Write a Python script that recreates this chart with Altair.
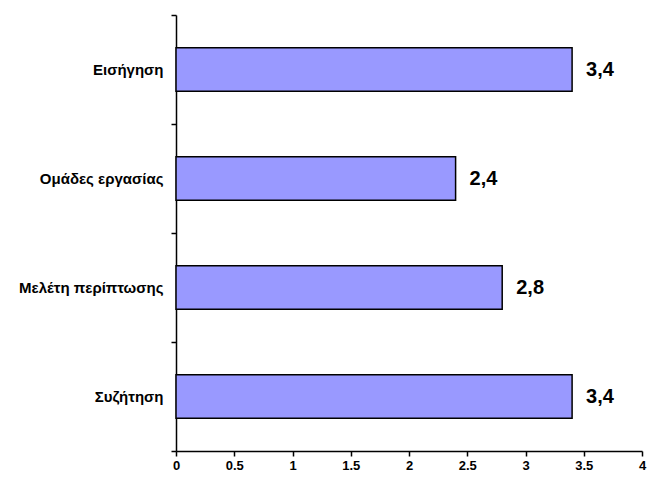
import altair as alt
import pandas as pd

categories = ["Εισήγηση", "Ομάδες εργασίας", "Μελέτη περίπτωσης", "Συζήτηση"]
values = [3.4, 2.4, 2.8, 3.4]
labels = ["3,4", "2,4", "2,8", "3,4"]

df = pd.DataFrame({"cat": categories, "val": values, "lab": labels})

FONT = "Liberation Sans"

y = alt.Y("cat:N", sort=categories, title=None,
          scale=alt.Scale(paddingInner=0, paddingOuter=0),
          axis=alt.Axis(tickBand="extent", labelFont=FONT, labelFontSize=15,
                        labelFontWeight="bold", labelColor="black", labelPadding=8,
                        domainColor="black", domainWidth=1.5, tickColor="black",
                        tickWidth=1.5, tickSize=5))
x = alt.X("val:Q", title=None,
          scale=alt.Scale(domain=[0, 4], nice=False),
          axis=alt.Axis(values=[0, 0.5, 1, 1.5, 2, 2.5, 3, 3.5, 4], grid=False,
                        labelFont=FONT, labelFontSize=13, labelFontWeight="bold",
                        labelColor="black", labelPadding=3, labelFlush=False,
                        domainColor="black", domainWidth=1.5, tickColor="black",
                        tickWidth=1.5, tickSize=5, format="~g"))

bars = alt.Chart(df).mark_bar(color="#9999FF", stroke="black", strokeWidth=1.5,
                              height={"band": 0.4}).encode(x=x, y=y)
text = alt.Chart(df).mark_text(align="left", baseline="middle", dx=14, font=FONT,
                               fontSize=20, fontWeight="bold", color="black").encode(
    x="val:Q", y=alt.Y("cat:N", sort=categories), text="lab:N")

chart = (bars + text).properties(
    width=466, height=436,
    autosize=alt.AutoSizeParams(type="none"),
    padding={"left": 168, "top": 7, "right": 5, "bottom": 21},
).configure_view(stroke=None).configure_axis(grid=False)

chart.save("out.html", embed_options={"renderer": "svg", "actions": False})
